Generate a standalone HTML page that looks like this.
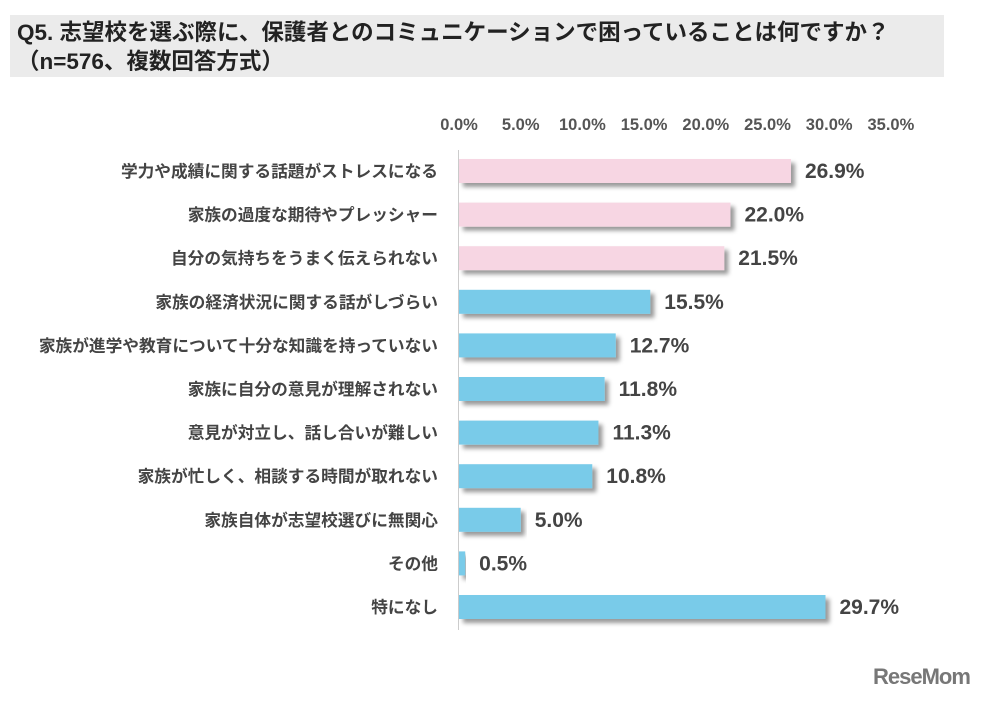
<!DOCTYPE html>
<html><head><meta charset="utf-8"><style>
body{margin:0;width:984px;height:701px;background:#fff;font-family:"Liberation Sans","Noto Sans CJK JP",sans-serif;overflow:hidden;position:relative}
#title{position:absolute;left:10px;top:15px;width:934px;height:62px;background:#ebebeb;color:#222;font-weight:bold;font-size:22.5px;line-height:29px;padding:3px 0 0 7px;box-sizing:border-box;white-space:nowrap}
#logo{position:absolute;left:873px;top:664px;font-size:22px;font-weight:bold;color:#777;letter-spacing:-1px}
</style></head><body>
<div id="title">Q5. 志望校を選ぶ際に、保護者とのコミュニケーションで困っていることは何ですか？<br>（n=576、複数回答方式）</div>
<svg id="chart" width="984" height="701" style="position:absolute;left:0;top:0">
<defs><filter id="sh" x="-5%" y="-20%" width="115%" height="170%"><feDropShadow dx="4" dy="4" stdDeviation="2" flood-color="#000" flood-opacity="0.4"/></filter></defs>
<g id="g"></g></svg>
<div id="logo">ReseMom</div>
<script>
const categories=["学力や成績に関する話題がストレスになる","家族の過度な期待やプレッシャー","自分の気持ちをうまく伝えられない","家族の経済状況に関する話がしづらい","家族が進学や教育について十分な知識を持っていない","家族に自分の意見が理解されない","意見が対立し、話し合いが難しい","家族が忙しく、相談する時間が取れない","家族自体が志望校選びに無関心","その他","特になし"];
const values=[26.9,22.0,21.5,15.5,12.7,11.8,11.3,10.8,5.0,0.5,29.7];
const highlight=[1,1,1,0,0,0,0,0,0,0,0];
const ticks=[0,5,10,15,20,25,30,35];
const NS="http://www.w3.org/2000/svg",g=document.getElementById('g');
const x=v=>459+v*12.34, y=i=>171+i*43.6;
function mk(t,a){const e=document.createElementNS(NS,t);for(const k in a)e.setAttribute(k,a[k]);g.appendChild(e);return e;}
ticks.forEach(t=>{const e=mk('text',{x:x(t),y:130,'text-anchor':'middle','font-size':16.5,'font-weight':'bold',fill:'#555'});e.textContent=t.toFixed(1)+'%';

});
const ax=mk('line',{x1:458.5,x2:458.5,y1:150,y2:630,stroke:'#ccc','stroke-width':1});


categories.forEach((c,i)=>{
const l=mk('text',{x:438,y:y(i)+6,'text-anchor':'end','font-size':16.7,'font-weight':'bold',fill:'#444'});l.textContent=c;


const b=mk('rect',{x:459,y:y(i)-12,width:x(values[i])-459,height:24,fill:highlight[i]?'#f7d6e3':'#79cbe9',filter:'url(#sh)'});


const v=mk('text',{x:x(values[i])+14,y:y(i)+7,'font-size':21,'font-weight':'bold',fill:'#444'});v.textContent=values[i].toFixed(1)+'%';


});
</script>
</body></html>
